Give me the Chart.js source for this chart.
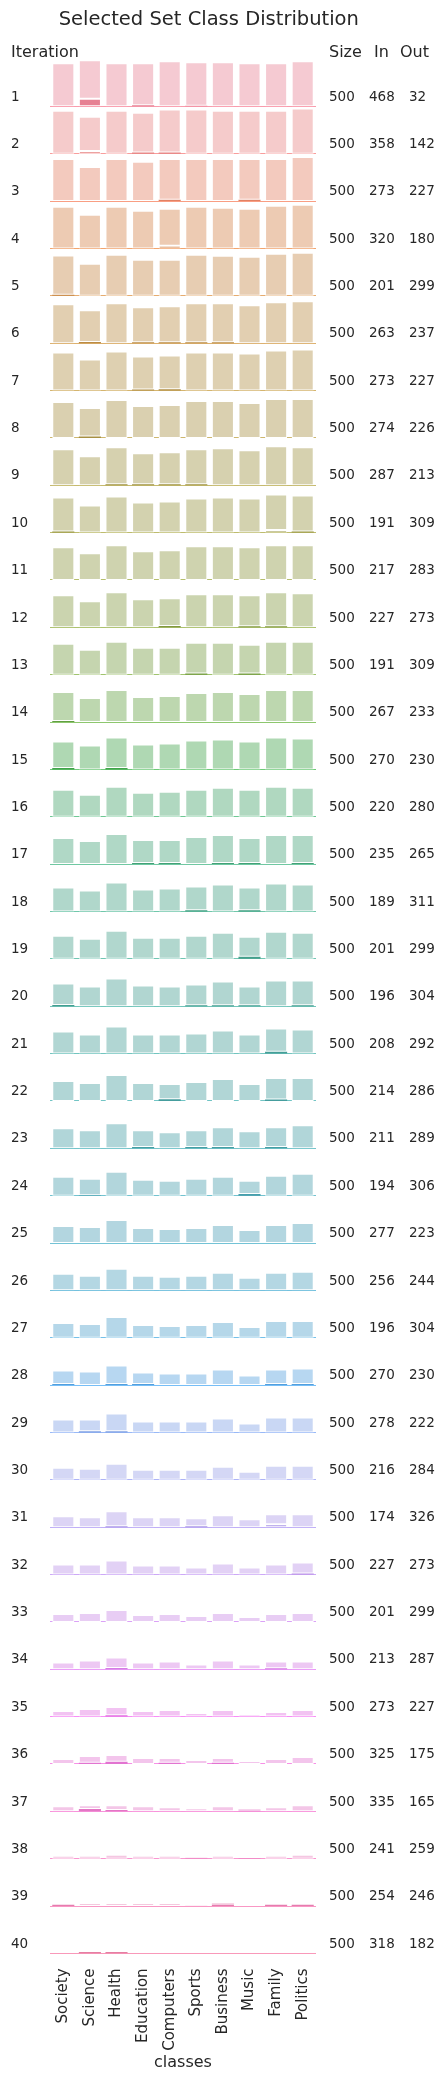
<!DOCTYPE html>
<html><head><meta charset="utf-8">
<script src="https://cdn.jsdelivr.net/npm/chart.js@4.4.1/dist/chart.umd.min.js"></script>
<style>
html,body{margin:0;padding:0;background:#fff;}
#wrap{position:relative;width:444px;height:2081px;overflow:hidden;font-family:"DejaVu Sans",sans-serif;color:#262626;}
#wrap canvas{position:absolute;left:0;top:0;}
.t{position:absolute;white-space:nowrap;line-height:20px;height:20px;margin-top:-10px;}
</style></head><body>
<div id="wrap"><canvas id="c" width="444" height="2081"></canvas></div>
<script>
// ---------------- data ----------------
const classes = ["Society","Science","Health","Education","Computers","Sports","Business","Music","Family","Politics"];
const iterations = [1,2,3,4,5,6,7,8,9,10,11,12,13,14,15,16,17,18,19,20,21,22,23,24,25,26,27,28,29,30,31,32,33,34,35,36,37,38,39,40];
const sizes = [500,500,500,500,500,500,500,500,500,500,500,500,500,500,500,500,500,500,500,500,500,500,500,500,500,500,500,500,500,500,500,500,500,500,500,500,500,500,500,500];
const inCounts = [468,358,273,320,201,263,273,274,287,191,217,227,191,267,270,220,235,189,201,196,208,214,211,194,277,256,196,270,278,216,174,227,201,213,273,325,335,241,254,318];
const outCounts = [32,142,227,180,299,237,227,226,213,309,283,273,309,233,230,280,265,311,299,304,292,286,289,306,223,244,304,230,222,284,326,273,299,287,227,175,165,259,246,182];
// class totals before selection (light + dark), per iteration
const poolBefore = [
 [43,46,43,43,45,44,44,43,43,45],
 [43,37,43,41,44.3,44.3,43,43,43,45.3],
 [42,34,42,39.3,42,42,42,42,42,44],
 [41.7,33.7,41.7,37.7,39.7,41.7,40.7,39.7,42.7,43.7],
 [40.3,32,41,36,36,41,40,39,42,43],
 [39,33,40,36,37,40,40,38,41,42],
 [38,31,39,34,35,38,38,37,40,41],
 [36,30,38,32,33,37,37,35,39,39],
 [36,29,38,32,33,36,37,35,39,38],
 [35,27,36,30,31,34,35,34,38,37],
 [32.7,26.7,34.7,28.7,29.7,33.7,33.7,32.7,34.7,34.7],
 [32,26,35,28,29,33,33,32,35,34],
 [31,25,33,27,27,32,32,30,33,33],
 [30,24,32,25,26,29,30,28,32,32],
 [28,24,32,25,26,29,30,28,32,31],
 [27,22,30,24,25,27,29,27,30,29],
 [26,23,30,24,24,27,29,26,29,29],
 [24,21,29,22,23,25,27,24,28,27],
 [23,20,28,21,21,23,26,22,27,26],
 [22.7,19.7,27.7,20.7,19.7,21.7,24.7,19.7,25.7,25.7],
 [22,19,27,19,19,20,23,19,25,24],
 [20,18,26,18,17,19,22,17,23,23],
 [20,18,25,18,16,18,21,17,21,23],
 [19,17,24,16,15,17,19,15,20,22],
 [17,16,23,15,14,15,18,13,18,20],
 [16.7,14.7,21.7,14.7,13.7,14.7,17.7,12.7,17.7,18.7],
 [14.7,13.7,20.7,12.7,11.7,12.7,15.7,10.7,16.7,16.7],
 [14.7,13.7,19.7,12.7,11.7,11.7,15.7,9.7,15.7,16.7],
 [13,13,19,11,11,11,14,9,15,15],
 [12,11,16,10,10,10,13,8,14,14],
 [11,10,16,10,10,9,12,8,13,13],
 [10,10,14,9,9,7,11,7,10,12],
 [8,9,12,7,8,6,9,5,8,9],
 [6.7,8.7,11.7,6.7,7.7,4.7,8.7,4.7,7.7,7.7],
 [5.7,7.7,9.7,5.7,6.7,3.7,6.7,2.7,4.7,6.7],
 [5,8,9,6,6,4,6,3,5,7],
 [5,6,6,5,4,3,5,2,4,6],
 [3,3,4,3,3,1,3,0.7,3,4],
 [1.3,3,3,3,3,0.3,2.7,0,1.3,1.3],
 [0,1.3,1.3,0,0,0,0,0,0,0]
];
// selected in this iteration (dark part)
const picked = [
 [0,7.7,0,1,0,0.7,0,0,0,0],
 [0,2.7,0,1.3,1.3,0,0,0,0,0],
 [0,0,0,0,1.3,0,0,1.3,0,0],
 [0,0,0,0,2.7,0,0,0,0,0],
 [1,0,0,0,0,0,0,0,0,0],
 [0,1.2,0,0.8,0.8,0.8,0.8,0,0,0],
 [0,0,0,1,1.3,0,0,0,0,0],
 [0,1.3,0,0,0,0,0,0,0,0],
 [0,0,1,1,1,1,0,0,0,0],
 [1,0,0,0,0,0,0,0,2.5,1],
 [0,0,0,0,0,0,0,0,0,0],
 [0,0,0,0,1.3,0,0,1,1,0],
 [0,0,0,0,0,1.3,0,1.3,0,0],
 [1,0,0,0,0,0,0,0,0,0],
 [1.3,0,1.3,0,0,0,0,0,0,0],
 [0,0,0,0,0,0,0,0,0,0],
 [0,0,0,1,1,0,1,1,0,1],
 [0,0,0,0,0,1.3,0,1.3,0,0],
 [0,0,0,0,0,0,0,2,0,0],
 [1.3,0,0,0,0,1,1,1,0,1],
 [0,0,0,0,0,0,0,0,1.7,0],
 [0,0,0,0,1.7,0,0,0,1.3,0],
 [0,0,0,1.3,0,1.3,1.3,0,1.3,0],
 [0,0.5,0,0,0,0,0,1.7,0,0],
 [0,0,0,0,0,0,0,0,0,0],
 [0,0,0,0,0,0,0,0,0,0],
 [0,0,0,0,0,0,0,0,0,0],
 [1,0,1,1,0,0,0,0,1,1],
 [0,1.3,1.3,0,0,0,0,0,0,0],
 [0,0,0,0,0,0,0,0,0,0],
 [0,0,1,0,0,1,0,0,3,0],
 [0,0,0,0,0,0,0,0,0,1],
 [0,0,0,0,0,0,0,0,0,0],
 [0,0,1.3,0,0,0,0,0,1,0],
 [0,0,1.3,0,0,0,0,0,0,0],
 [0,1.3,2.3,0,1.3,0,1.3,0,0,0],
 [0,2.3,1.3,0,0,0,0,0,0,0],
 [0,0,0,0,0,0,0,0,0,0],
 [1.3,0,0,0,0,0,1,0,1.3,1.3],
 [0,1.3,1.3,0,0,0,0,0,0,0]
];
const ROW = 47.36; // value span of one facet row

// ---------------- husl palette (desaturated like seaborn bars) ----------------
const M = [[3.2406,-1.5372,-0.4986],[-0.9689,1.8758,0.0415],[0.0557,-0.2040,1.0570]];
const refU=0.19784, refV=0.46834, labE=0.008856, labK=903.3;
function maxChroma(L,H){
  const hr=H/360*2*Math.PI, s=Math.sin(hr), c=Math.cos(hr);
  const sub1=Math.pow(L+16,3)/1560896;
  const sub2=sub1>labE?sub1:L/labK;
  let res=Infinity;
  for(const [m1,m2,m3] of M){
    const top=(0.99915*m1+1.05122*m2+1.14460*m3)*sub2;
    const rb=0.86330*m3-0.17266*m2, lb=0.12949*m3-0.38848*m1;
    const bottom=(rb*s+lb*c)*sub2;
    for(const t of [0,1]){
      const C=L*(top-1.05122*t)/(bottom+0.17266*s*t);
      if(C>0&&C<res) res=C;
    }
  }
  return res;
}
function husl(H,S,L){
  const C=maxChroma(L,H)/100*S, hr=H/360*2*Math.PI;
  const U=Math.cos(hr)*C, V=Math.sin(hr)*C;
  const fy=(L+16)/116; const Y=Math.pow(fy,3)>labE?Math.pow(fy,3):L/labK;
  const vu=U/(13*L)+refU, vv=V/(13*L)+refV;
  const X=-(9*Y*vu)/((vu-4)*vv-vu*vv);
  const Z=(9*Y-15*vv*Y-vv*X)/(3*vv);
  return M.map(r=>r[0]*X+r[1]*Y+r[2]*Z)
    .map(c=>c<=0.0031308?12.92*c:1.055*Math.pow(c,1/2.4)-0.055)
    .map(c=>Math.min(1,Math.max(0,c)));
}
function desaturate(rgb,prop){
  const [r,g,b]=rgb, mx=Math.max(r,g,b), mn=Math.min(r,g,b), l=(mx+mn)/2;
  let h=0,s=0;
  if(mx!==mn){
    const d=mx-mn;
    s = l<=0.5 ? d/(mx+mn) : d/(2-mx-mn);
    if(mx===r) h=((g-b)/d)/6; else if(mx===g) h=(2+(b-r)/d)/6; else h=(4+(r-g)/d)/6;
    h=((h%1)+1)%1;
  }
  s*=prop;
  if(s===0) return [l,l,l];
  const q = l<=0.5 ? l*(1+s) : l+s-l*s, p=2*l-q;
  const f=t=>{t=((t%1)+1)%1; if(t<1/6) return p+(q-p)*t*6; if(t<0.5) return q; if(t<2/3) return p+(q-p)*(2/3-t)*6; return p;};
  return [f(h+1/3),f(h),f(h-1/3)];
}
const n = iterations.length;
const hueOf = r => (((r/n)+0.01)%1)*359;
const to255 = c=>c.map(v=>Math.round(v*255));
const rgba = (c,a)=>`rgba(${c[0]},${c[1]},${c[2]},${a})`;
const lineCol = iterations.map((_,r)=>to255(husl(hueOf(r),89.1,64.35)));
const barCol = iterations.map((_,r)=>to255(desaturate(husl(hueOf(r),89.1,64.35),0.75)));

// ---------------- datasets ----------------
const bw = ctx => { const v=ctx.raw; if(!v) return 0; return Math.abs(v[1]-v[0])>=2.5?1:0; };
const datasets=[];
iterations.forEach((it,r)=>{
  const base=(r+1)*ROW;
  datasets.push({
    label:'selected '+it,
    data: classes.map((_,j)=> picked[r][j]>0 ? [base-picked[r][j], base] : null),
    backgroundColor: rgba(barCol[r],1)
  });
  datasets.push({
    label:'pool '+it,
    data: classes.map((_,j)=> poolBefore[r][j]-picked[r][j]>0 ? [base-poolBefore[r][j], base-picked[r][j]] : null),
    backgroundColor: rgba(barCol[r],0.42)
  });
});

const chart = new Chart(document.getElementById('c'), {
  type:'bar',
  data:{labels:classes, datasets},
  options:{
    responsive:false, animation:false,
    layout:{padding:{left:50,right:128,top:59,bottom:0}},
    datasets:{bar:{grouped:false,barPercentage:0.83,categoryPercentage:1,borderColor:'#ffffff',borderSkipped:false,borderWidth:bw}},
    plugins:{legend:{display:false},tooltip:{enabled:false},title:{display:false}},
    scales:{
      x:{
        offset:true,
        grid:{display:false,drawTicks:false},
        border:{display:false},
        ticks:{minRotation:90,maxRotation:90,autoSkip:false,padding:15,color:'#262626',font:{family:'DejaVu Sans',size:15}},
        title:{display:true,text:'classes',color:'#262626',font:{family:'DejaVu Sans',size:16},padding:{top:0,bottom:9}},
        afterFit:s=>{s.height=2081-59-40*ROW;}
      },
      y:{
        type:'linear',min:0,max:n*ROW,reverse:true,z:1,
        afterBuildTicks:s=>{s.ticks=iterations.map((_,r)=>({value:(r+1)*ROW}));},
        afterFit:s=>{s.width=0;},
        ticks:{display:false},
        border:{display:false},
        grid:{drawTicks:false,lineWidth:1,color:ctx=>{
          if(!ctx.tick) return 'transparent';
          const r=Math.round(ctx.tick.value/ROW)-1;
          return r>=0&&r<n?rgba(lineCol[r],0.7):'transparent';
        }}
      }
    }
  }
});

// ---------------- text ----------------
const wrap=document.getElementById('wrap');
function addText(txt,x,y,size,center){
  const d=document.createElement('div');
  d.className='t'; d.textContent=txt;
  d.style.left=x+'px'; d.style.top=y+'px'; d.style.fontSize=size+'px';
  if(center) d.style.transform='translateX(-50%)';
  wrap.appendChild(d);
}
addText('Selected Set Class Distribution',208.8,19,19.5,true);
addText('Iteration',11,52,16);
addText('Size',329,52,16);
addText('In',374,52,16);
addText('Out',400,52,16);
const ys=chart.scales.y;
iterations.forEach((it,r)=>{
  const yb=ys.getPixelForValue((r+1)*ROW)-10.8;
  addText(String(it),11,yb,13.5);
  addText(String(sizes[r]),329,yb,13.5);
  addText(String(inCounts[r]),369,yb,13.5);
  addText(String(outCounts[r]),409,yb,13.5);
});
</script>
</body></html>
